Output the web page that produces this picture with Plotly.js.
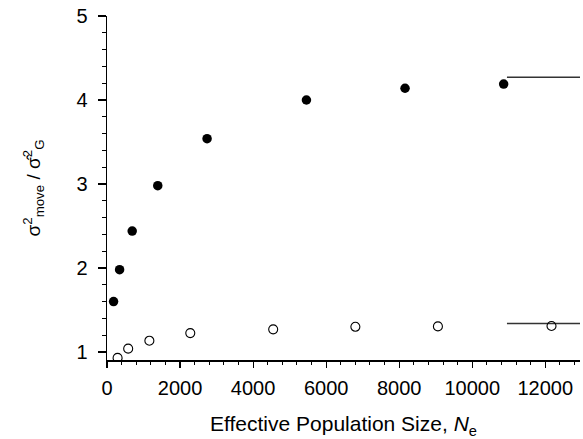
<!DOCTYPE html>
<html>
<head>
<meta charset="utf-8">
<script src="https://cdn.plot.ly/plotly-3.0.1.min.js"></script>
<style>html,body{margin:0;padding:0;background:#fff;}#plot{width:583px;height:439px;}</style>
</head>
<body>
<div id="plot"></div>
<script>
// Filled circles (upper series)
var filledX = [180, 345, 690, 1390, 2740, 5460, 8160, 10860];
var filledY = [1.60, 1.98, 2.44, 2.98, 3.54, 4.00, 4.14, 4.19];
// Open circles (lower series)
var openX = [290, 580, 1160, 2280, 4550, 6800, 9060, 12170];
var openY = [0.93, 1.04, 1.135, 1.225, 1.27, 1.30, 1.305, 1.31];
// Asymptote reference lines
var asymX = [10950, 12950];
var upperAsymY = [4.27, 4.27];
var lowerAsymY = [1.34, 1.34];
var yTicks = [1, 2, 3, 4, 5];
var xTicks = [0, 2000, 4000, 6000, 8000, 10000, 12000];

var font = "Liberation Sans, Arial, Helvetica, sans-serif";

var traces = [
  {x: asymX, y: upperAsymY, mode: 'lines', line: {color: '#333', width: 1.5}, hoverinfo: 'skip'},
  {x: asymX, y: lowerAsymY, mode: 'lines', line: {color: '#333', width: 1.5}, hoverinfo: 'skip'},
  {x: filledX, y: filledY, mode: 'markers', marker: {symbol: 'circle', size: 9.5, color: '#000'}},
  {x: openX, y: openY, mode: 'markers', marker: {symbol: 'circle-open', size: 9, color: '#000', line: {width: 1.1}}}
];

var layout = {
  width: 583, height: 439,
  margin: {l: 107, r: 3, t: 16, b: 79},
  paper_bgcolor: '#fff', plot_bgcolor: '#fff',
  showlegend: false,
  font: {family: font, color: '#000'},
  xaxis: {
    range: [0, 12950], tickvals: xTicks, ticktext: xTicks.map(String),
    showgrid: false, zeroline: false, showline: true, linecolor: '#000', linewidth: 1.5,
    ticks: 'outside', ticklen: 6, tickwidth: 1.2, tickcolor: '#000',
    minor: {dtick: 400, tick0: 0, ticks: 'outside', ticklen: 3, tickwidth: 1, tickcolor: '#000'},
    tickfont: {size: 20, family: font},
    ticklabelstandoff: 3,
    title: {text: 'Effective Population Size, <i>N</i><sub>e</sub>', font: {size: 21, family: font}, standoff: 19}
  },
  yaxis: {
    range: [0.905, 5], tickvals: yTicks, ticktext: yTicks.map(String),
    showgrid: false, zeroline: false, showline: true, linecolor: '#000', linewidth: 1.5,
    ticks: 'outside', ticklen: 8, tickwidth: 1.2, tickcolor: '#000',
    minor: {dtick: 0.2, tick0: 0, ticks: 'outside', ticklen: 4, tickwidth: 1, tickcolor: '#000'},
    tickfont: {size: 20, family: font},
    ticklabelstandoff: 6,
    title: {text: 'σ<sup>2</sup><sub>move</sub> / σ̂<sup>2</sup><sub>G</sub>', font: {size: 19, family: font}, standoff: 30}
  }
};

Plotly.newPlot('plot', traces, layout, {displayModeBar: false, staticPlot: true});
</script>
</body>
</html>
